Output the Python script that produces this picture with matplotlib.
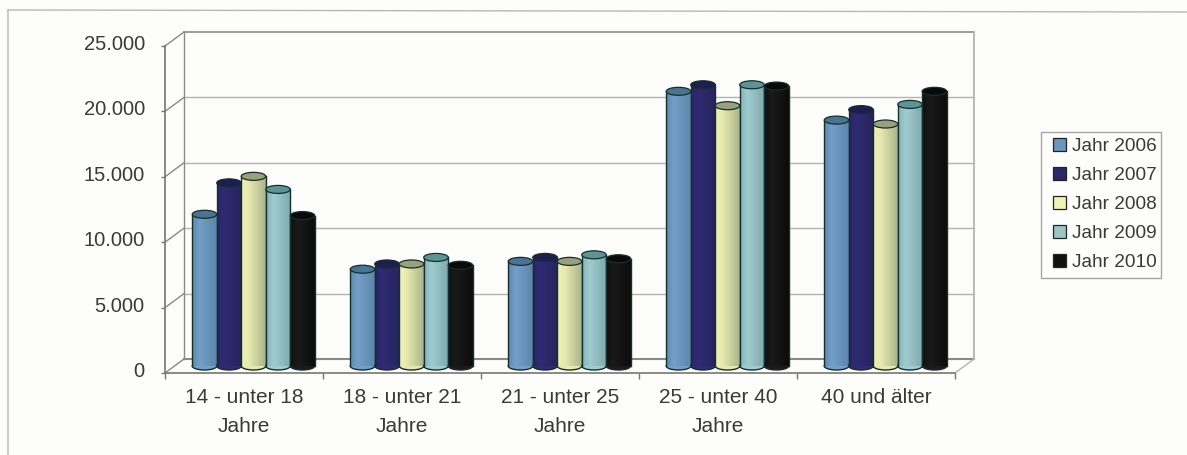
import numpy as np
import matplotlib
matplotlib.use("Agg")
import matplotlib.pyplot as plt
from matplotlib.colors import to_rgb
from matplotlib.lines import Line2D
from matplotlib.patches import Ellipse, Patch, Rectangle
from matplotlib.transforms import ScaledTranslation

categories = ["14 - unter 18\nJahre", "18 - unter 21\nJahre", "21 - unter 25\nJahre",
              "25 - unter 40\nJahre", "40 und älter"]
years = ["Jahr 2006", "Jahr 2007", "Jahr 2008", "Jahr 2009", "Jahr 2010"]
jahr_2006 = [11600, 7400, 8000, 21000, 18800]
jahr_2007 = [14000, 7800, 8300, 21500, 19600]
jahr_2008 = [14500, 7800, 8000, 19900, 18500]
jahr_2009 = [13500, 8300, 8500, 21500, 20000]
jahr_2010 = [11500, 7700, 8200, 21400, 21000]
series = [jahr_2006, jahr_2007, jahr_2008, jahr_2009, jahr_2010]
y_ticks = [0, 5000, 10000, 15000, 20000, 25000]
y_labels = ["0", "5.000", "10.000", "15.000", "20.000", "25.000"]

# left / light / right shade of each cylinder, then top face and legend colour
SHADES = [("#5f88ae", "#739fc8", "#5d86ac"), ("#2a2565", "#2f2b72", "#26245c"),
          ("#eef2b4", "#e6eab0", "#aab58c"), ("#86b4b8", "#a0ccd0", "#7fa9ac"),
          ("#101010", "#1a1a1a", "#0c0c0c")]
TOPS = ["#4a7492", "#1f1d52", "#9a9f7c", "#5f9496", "#0a0a0a"]
LEGEND_COLORS = ["#6a96bc", "#2a2868", "#f0f2b4", "#9cc4c4", "#111111"]
EDGE = "#14302c"
BACKGROUND = "#fdfdfc"
TEXT = "#3a3a3a"
W, H = 1187, 455

plt.rcParams["font.family"] = ["Liberation Sans", "DejaVu Sans"]

fig = plt.figure(figsize=(W / 100, H / 100), dpi=100, facecolor=BACKGROUND)
# axes is the front plane of the 3D box
ax = fig.add_axes([165 / W, 1 - 373 / H, 790 / W, 327 / H], facecolor="none")
ax.set_xlim(0, 5)
ax.set_ylim(0, 25000)

DX = 19 / 158   # box depth in category units
DY = 14 * 25000 / 327   # box depth in value units
BAR_W = 0.155
CAP = 8 * 25000 / 327

# box
WALL = "#b4b4ae"
for t in y_ticks[1:-1]:
    ax.plot([DX, 5 + DX], [t + DY, t + DY], color=WALL, lw=1.0, clip_on=False, zorder=1)
ax.plot([DX, 5 + DX], [25000 + DY, 25000 + DY], color="#8a8a84", lw=1.2, clip_on=False, zorder=1)
ax.plot([DX, 5 + DX], [DY, DY], color="#8a8a84", lw=1.5, clip_on=False, zorder=1)
ax.plot([DX, DX], [DY, 25000 + DY], color="#8a8a84", lw=1.0, clip_on=False, zorder=1)
ax.plot([5 + DX, 5 + DX], [DY, 25000 + DY], color=WALL, lw=1.3, clip_on=False, zorder=1)
for t in y_ticks:
    ax.plot([0, DX], [t, t + DY], color="#8a8a84", lw=1.0, clip_on=False, zorder=1)
ax.plot([5, 5 + DX], [0, DY], color=WALL, lw=1.0, clip_on=False, zorder=1)


def cylinder(x, value, shades, top, z):
    left, right = x - BAR_W / 2, x + BAR_W / 2
    base, head = DY / 2, value + DY / 2
    ax.add_patch(Ellipse((x, base), BAR_W, CAP, fc=shades[1], ec=EDGE, lw=1.0, zorder=z))
    pos = np.linspace(0, 1, 32)
    rgb = np.array([np.interp(pos, [0, 0.3, 1], [to_rgb(s)[i] for s in shades]) for i in range(3)])
    ax.imshow(rgb.T[np.newaxis, :, :], extent=(left, right, base, head), aspect="auto",
              interpolation="bilinear", zorder=z + 0.1)
    ax.plot([left, left], [base, head], color=EDGE, lw=1.0, zorder=z + 0.2)
    ax.plot([right, right], [base, head], color=EDGE, lw=1.0, zorder=z + 0.2)
    ax.add_patch(Ellipse((x, head), BAR_W, CAP, fc=top, ec=EDGE, lw=0.9, zorder=z + 0.3))


for c in range(len(categories)):
    for s, values in enumerate(series):
        x = c + 0.5 + DX / 2 + (s - 2) * BAR_W
        cylinder(x, values[c], SHADES[s], TOPS[s], 3 + s)
ax.set_xlim(0, 5)
ax.set_ylim(0, 25000)

for name in ["top", "right"]:
    ax.spines[name].set_visible(False)
for name in ["left", "bottom"]:
    ax.spines[name].set_color("#77776f")
    ax.spines[name].set_linewidth(1.2)

ax.set_yticks(y_ticks, y_labels)
ax.set_xticks(range(6), [""] * 6)
ax.set_xticks(np.arange(5) + 0.5, categories, minor=True)
ax.tick_params(axis="y", length=3, width=1, color="#77776f", labelsize=14.5, labelcolor=TEXT, pad=11.5)
ax.tick_params(axis="x", which="major", length=4, width=1, color="#77776f")
ax.tick_params(axis="x", which="minor", length=0, labelsize=15, labelcolor=TEXT, pad=11)
for label in ax.get_xticklabels(minor=True):
    label.set_linespacing(1.66)
    label.set_verticalalignment("top")
for label in ax.get_yticklabels():
    label.set_transform(label.get_transform() + ScaledTranslation(0, 2.5 / 72, fig.dpi_scale_trans))

# legend frame drawn apart, the rows fill it almost without padding
fig.add_artist(Rectangle((1041 / W, 1 - 278 / H), 120 / W, 146 / H, transform=fig.transFigure,
                         fc=BACKGROUND, ec="#a6a6a2", lw=1.0))
handles = [Patch(fc=col, ec="#222222", lw=0.9) for col in LEGEND_COLORS]
fig.legend(handles, years, loc="upper left", bbox_to_anchor=(1053 / W, 1 - 138 / H),
           bbox_transform=fig.transFigure, fontsize=13.7, labelcolor=TEXT, frameon=False,
           borderpad=0, handlelength=0.66, handleheight=0.66, handletextpad=0.34,
           labelspacing=0.63, borderaxespad=0)

# outer frame of the scanned chart
fig.add_artist(Line2D([8 / W, 8 / W], [0, 1 - 10 / H], color="#c4c4c0", lw=1.2))
fig.add_artist(Line2D([8 / W, 1], [1 - 10 / H, 1 - 12 / H], color="#b8b8b2", lw=1.0))

fig.savefig("out.png", dpi=100, facecolor=BACKGROUND)
